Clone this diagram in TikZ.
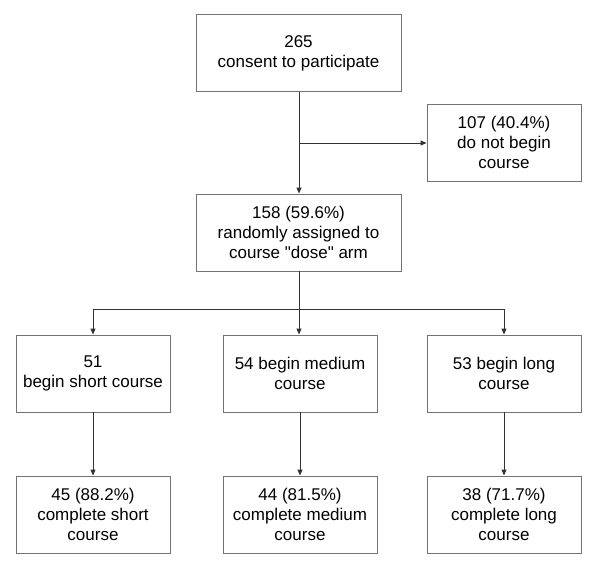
\documentclass[tikz,border=0pt]{standalone}
\usepackage{fontspec}
\setmainfont{Liberation Sans}
\usetikzlibrary{arrows.meta}
\newcommand\straightdq{\XeTeXglyph\XeTeXcharglyph34\relax}
\begin{document}
\begin{tikzpicture}[x=1pt,y=-1pt,
  box/.style={draw=black!55, line width=0.9pt, fill=white, align=center,
    inner sep=0pt, minimum height=77pt,
    font=\fontsize{17}{20}\selectfont},
  wide/.style={box, minimum width=205pt},
  narrow/.style={box, minimum width=154pt},
  conn/.style={draw=black!80, line width=0.9pt},
  arr/.style={conn, -{Triangle[length=6pt,width=5pt]}}]
\useasboundingbox[fill=white] (0,0) rectangle (600,573);
\node[wide] (top) at (298.5,53) {265\\consent to participate};
\node[narrow] (out) at (504,142.5) {107 (40.4\%)\\do not begin\\course};
\node[wide] (mid) at (298.5,232.5) {158 (59.6\%)\\randomly assigned to\\course \straightdq dose\straightdq{} arm};
\node[narrow] (sa) at (93,373.5) {51\\begin short course};
\node[narrow] (ma) at (300,373.5) {54 begin medium\\course};
\node[narrow] (la) at (504,373.5) {53 begin long\\course};
\node[narrow] (sb) at (93,514.5) {45 (88.2\%)\\complete short\\course};
\node[narrow] (mb) at (300,514.5) {44 (81.5\%)\\complete medium\\course};
\node[narrow] (lb) at (504,514.5) {38 (71.7\%)\\complete long\\course};
\coordinate (b1) at (299,143);
\coordinate (j) at (299,309);
\draw[arr] (top.south -| b1) -- (mid.north -| b1);
\draw[arr] (b1) -- (b1 -| out.west);
\draw[conn] (mid.south -| j) -- (j);
\draw[arr] (j) -| (sa.north);
\draw[arr] (j) -| (la.north);
\draw[arr] (j) -- (j |- ma.north);
\draw[arr] (sa) -- (sb);
\draw[arr] (ma) -- (mb);
\draw[arr] (la) -- (lb);
\end{tikzpicture}
\end{document}
